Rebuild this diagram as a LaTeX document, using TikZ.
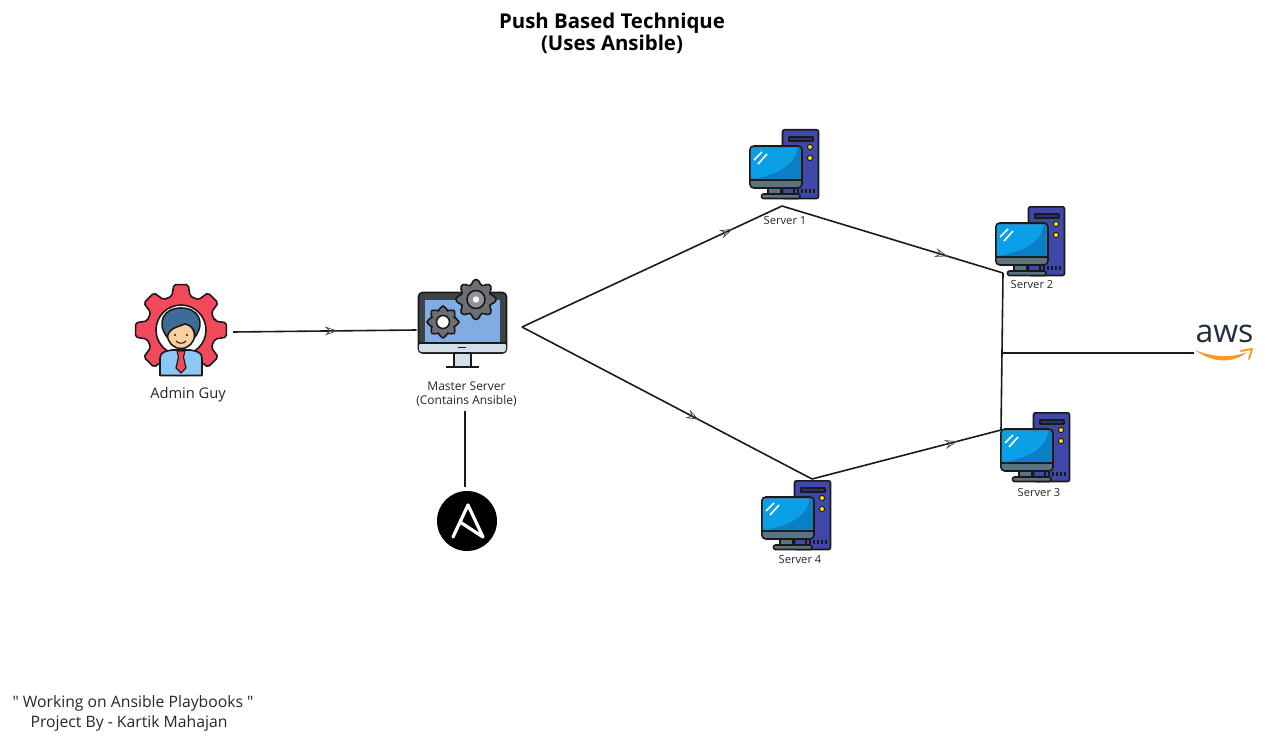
\documentclass[tikz,border=0pt]{standalone}
\usepackage{fontspec}
\setmainfont{Open Sans}
\newfontfamily\plainfont{Open Sans}
\usepackage{xcolor}
\usepackage{tikz}
\usetikzlibrary{arrows.meta,positioning,calc,decorations.markings}

\definecolor{inkdark}{HTML}{1A1A1A}
\definecolor{towerblue}{HTML}{3F47A8}
\definecolor{screenblue}{HTML}{0A9FE6}
\definecolor{screendeep}{HTML}{0B7FC6}
\definecolor{slategrey}{HTML}{5B7480}
\definecolor{gearred}{HTML}{F2495C}
\definecolor{hairblue}{HTML}{3E6C98}
\definecolor{shirtblue}{HTML}{8CC8F5}
\definecolor{facetan}{HTML}{FBCFA0}
\definecolor{monitorblue}{HTML}{7FACE3}
\definecolor{bezelgrey}{HTML}{D3DEE8}
\definecolor{bezeldark}{HTML}{3E4347}
\definecolor{cogsgrey}{HTML}{6C6E72}
\definecolor{awsink}{HTML}{232F3E}
\definecolor{awsorange}{HTML}{F79A1F}

\begin{document}
\begin{tikzpicture}[
    x=0.75pt, y=-0.75pt,
    iconbox/.style={
        rectangle,
        inner sep=0pt,
        outer sep=0pt
    },
    titlelbl/.style={font=\bfseries\fontsize{15.3}{16.6}\selectfont, align=center},
    mainlbl/.style={font=\fontsize{11}{13}\selectfont, align=center, text=black!85},
    masterlbl/.style={font=\fontsize{9}{10.4}\selectfont, align=center, text=black!85},
    srvlbl/.style={font=\fontsize{8.4}{10}\selectfont, text=black!85},
    footlbl/.style={font=\plainfont\fontsize{11.8}{14}\selectfont, text=black!85},
    link/.style={line width=1.2pt, draw=inkdark},
    arr/.style={
        link,
        postaction={decorate},
        decoration={markings, mark=at position #1 with {
            \arrow{Stealth[open, color=black!70, line width=0.55pt, length=3.4mm, width=2.4mm, inset=1.2mm]}
        }}
    },
    outline/.style={draw=inkdark, line width=1.2pt, line join=round},
    pics/server/.style={code={
        % tower
        \draw[outline, fill=towerblue, rounded corners=1.5pt] (33.5,0.8) rectangle (69.5,69.5);
        \draw[outline, fill=towerblue!70!black, line width=0.9pt] (40,8) rectangle (64,12);
        \foreach \dy in {18,29} {
            \draw[draw=inkdark, line width=0.7pt, fill=yellow!85!orange] (61,\dy) circle (2.6);
        }
        \foreach \dx in {44,48,...,64} {
            \fill[inkdark] (\dx,60) rectangle ++(2,4);
        }
        % stand
        \draw[outline, fill=slategrey] (19,59) rectangle (32,66);
        \draw[outline, fill=slategrey, rounded corners=1.5pt] (12.5,65) rectangle (51,69.5);
        % monitor
        \draw[outline, fill=slategrey, rounded corners=3pt] (0.8,17) rectangle (53,59);
        \fill[inkdark] (1,50) rectangle (52.5,52);
        \fill[screendeep, rounded corners=2pt] (2,18.5) rectangle (51.5,50);
        \fill[screenblue, rounded corners=2pt] (2,18.5) -- (49,18.5) .. controls (44,38) and (26,46) .. (2,50) -- cycle;
        \draw[white, line width=1.2pt] (5,31) -- (13,23);
        \draw[white, line width=1.2pt] (9,35) -- (18,25);
    }},
    pics/cog/.style n args={2}{code={
        \draw[outline, fill=#2, rounded corners=1.5pt] (-15:#1*0.76)
            \foreach \a in {0,45,...,315} {
                -- (\a-9:#1) -- (\a+9:#1) -- (\a+15:#1*0.76) -- (\a+30:#1*0.76)
            } -- cycle;
    }},
]

% title
\node[titlelbl] (title) at (612,33.5) {Push Based Technique\\(Uses Ansible)};

% admin
\node[iconbox, minimum width=104*0.75pt, minimum height=94*0.75pt] (admin) at (181,332) {};
\pic at (181,330) {cog={46}{gearred}};
\draw[outline, fill=white] (181,330) circle (25);
\draw[outline, fill=shirtblue] (160,375.5) -- (160,358) .. controls (160,352) and (166,351) .. (172,350) -- (190,350) .. controls (196,351) and (202,352) .. (202,358) -- (202,375.5) -- cycle;
\draw[outline, line width=0.9pt, fill=gearred] (177,351) -- (185,351) -- (183.5,357) -- (186,368) -- (181,373) -- (176,368) -- (178.5,357) -- cycle;
\draw[outline, fill=facetan] (181,335) circle (13.5);
\draw[outline, fill=hairblue] (167,337) .. controls (156,322) and (164,308) .. (181,308) .. controls (198,308) and (206,322) .. (195,337) .. controls (195,328) and (190,325) .. (185,324) .. controls (178,327) and (170,327) .. (167,337) -- cycle;
\draw[inkdark, line width=0.8pt] (176,341) .. controls (178,344) and (184,344) .. (186,341);
\fill[inkdark] (175,335) circle (1.2) (187,335) circle (1.2);
\node[mainlbl] (adminlbl) at (188,394.5) {Admin Guy};

% master server
\node[iconbox, minimum width=91*0.75pt, minimum height=78*0.75pt] (master) at (462,330) {};
\draw[outline, fill=bezeldark, rounded corners=3pt] (418.5,292.5) rectangle (506.5,353);
\fill[monitorblue] (425,300) rectangle (500,343);
\fill[bezelgrey, rounded corners=2pt] (419,343) rectangle (506,352);
\draw[inkdark, line width=1pt] (418,343) -- (507,343);
\draw[inkdark, line width=1.2pt] (458,347.5) -- (466,347.5);
\draw[outline, fill=bezelgrey] (454,353) rectangle (471,367);
\draw[inkdark, line width=1.8pt] (446,367) -- (479,367);
\pic at (476,299.5) {cog={20}{cogsgrey}};
\draw[outline, fill=cogsgrey!75!white] (476,299.5) circle (9);
\fill[white] (476,299.5) circle (3.2);
\pic at (443,322) {cog={16}{cogsgrey}};
\draw[outline, fill=white] (443,322) circle (6.5);
\node[masterlbl] (masterlbl) at (466.5,394) {Master Server\\(Contains Ansible)};
\coordinate (fork) at (522,327);

% ansible
\node[iconbox, circle, fill=black, minimum size=60*0.75pt] (ansible) at (467,521) {};
\draw[white, line width=2.4pt, line join=round, line cap=round]
    (453,537) -- (468,505) -- (483,537) -- (460,522);

% servers
\pic at (749,129) {server};
\pic at (995,206) {server};
\pic at (1000,412) {server};
\pic at (761,480) {server};
\node[srvlbl] (srv1) at (785,220.5) {Server 1};
\node[srvlbl] (srv2) at (1032,284.5) {Server 2};
\node[srvlbl] (srv3) at (1039,492) {Server 3};
\node[srvlbl] (srv4) at (800,559.5) {Server 4};
\coordinate (top1) at (782,206);
\coordinate (top2) at (1003,273);
\coordinate (top3) at (1001,430);
\coordinate (top4) at (812,479);
\coordinate (tap) at (1001.5,353);

% aws
\node[iconbox, minimum width=60*0.75pt, minimum height=40*0.75pt] (aws) at (1224,342) {};
\node[font=\fontsize{24}{24}\selectfont, text=awsink, inner sep=0pt] (awstxt) at (1224.5,334) {aws};
\fill[awsorange] (1195,350) .. controls (1212,363) and (1233,364) .. (1247,352) .. controls (1233,358) and (1212,357.5) .. cycle;
\draw[awsorange, line width=1.4pt, line cap=round, line join=round] (1241,351) -- (1252,349) -- (1249,359);

% footer
\node[footlbl] (foot1) at (133,703) {" Working on Ansible Playbooks "};
\node[footlbl] (foot2) at (129,723) {Project By - Kartik Mahajan};

% main flow
\draw[arr=0.57] (admin.east) -- (master.west);
\draw[arr=0.81] (fork) -- (top1);
\draw[arr=0.75] (top1) -- (top2);
\draw[arr=0.61] (fork) -- (top4);
\draw[arr=0.77] (top4) -- (top3);

% plain links
\draw[link] (top2) -- (top3);
\draw[link] (tap) -- (tap -| aws.west);
\draw[link, shorten >=3pt] ([xshift=-1pt]masterlbl.south) -- ([xshift=-1pt]masterlbl.south |- ansible.north);

\useasboundingbox (0,0) rectangle (1280,738);
\end{tikzpicture}
\end{document}
